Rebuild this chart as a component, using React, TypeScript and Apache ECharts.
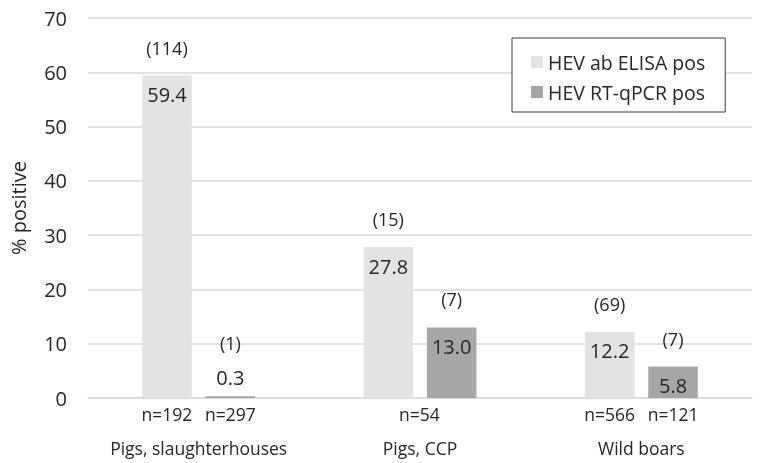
import React, { useEffect, useRef } from "react";
import * as echarts from "echarts";

const categories = ["Pigs, slaughterhouses", "Pigs, CCP", "Wild boars"];
const elisaPct = [59.4, 27.8, 12.2];
const pcrPct = [0.3, 13.0, 5.8];
const elisaCount = ["(114)", "(15)", "(69)"];
const pcrCount = ["(1)", "(7)", "(7)"];
const elisaN = ["n=192", "n=54", "n=566"];
const pcrN = ["n=297", "", "n=121"];
const yTicks = { min: 0, max: 70, interval: 10 };

const FONT = "Open Sans";
const TXT = "#262626";
const LIGHT = "#e3e3e3";
const DARK = "#a6a6a6";

export default function App() {
  const ref = useRef<HTMLDivElement>(null);
  useEffect(() => {
    if (!ref.current) return;
    const chart = echarts.init(ref.current, undefined, { renderer: "svg" });
    const zeros = categories.map(() => 0);
    const nLabel = (arr: string[]) => ({
      show: true,
      position: "bottom",
      distance: 7,
      fontFamily: FONT,
      fontSize: 17.5,
      color: TXT,
      formatter: (p: any) => arr[p.dataIndex],
    });
    const cntLabel = (arr: string[]) => ({
      show: true,
      position: "top",
      distance: 19,
      fontFamily: FONT,
      fontSize: 18,
      color: TXT,
      formatter: (p: any) => arr[p.dataIndex],
    });
    const valLabel = {
      show: true,
      position: "insideTop",
      distance: 9,
      fontFamily: FONT,
      fontSize: 20,
      color: TXT,
      formatter: (p: any) => Number(p.value).toFixed(1),
    };
    const helper = { color: "rgba(0,0,0,0)" };
    const option: any = {
      animation: false,
      grid: { left: 88, right: 9, top: 18, bottom: 65 },
      legend: {
        data: ["HEV ab ELISA pos", "HEV RT-qPCR pos"],
        orient: "vertical",
        left: 512,
        top: 38,
        padding: [14, 20, 10, 19],
        itemWidth: 12,
        itemHeight: 12,
        itemGap: 10,
        backgroundColor: "#ffffff",
        borderColor: "#404040",
        borderWidth: 1,
        borderRadius: 0,
        textStyle: { fontFamily: FONT, fontSize: 19.5, color: TXT },
        icon: "rect",
      },
      xAxis: {
        type: "category",
        data: categories,
        axisLine: { lineStyle: { color: "#d9d9d9", width: 1.5 } },
        axisTick: { show: false },
        axisLabel: {
          interval: 0,
          fontFamily: FONT,
          fontSize: 17.5,
          color: TXT,
          margin: 41,
        },
      },
      yAxis: {
        type: "value",
        ...yTicks,
        name: "% positive",
        nameLocation: "middle",
        nameGap: 60,
        nameTextStyle: { fontFamily: FONT, fontSize: 20, color: TXT },
        axisLine: { show: false },
        axisTick: { show: false },
        axisLabel: { fontFamily: FONT, fontSize: 20, color: TXT, margin: 21 },
        splitLine: { lineStyle: { color: "#d9d9d9", width: 1.5 } },
      },
      series: [
        {
          name: "elisaN",
          type: "bar",
          stack: "a",
          silent: true,
          data: zeros.map((v, i) =>
            i === 1 ? { value: v, label: { offset: [31, 0] } } : v
          ),
          itemStyle: helper,
          label: nLabel(elisaN),
        },
        {
          name: "HEV ab ELISA pos",
          type: "bar",
          stack: "a",
          data: elisaPct,
          itemStyle: { color: LIGHT },
          label: valLabel,
        },
        {
          name: "elisaCount",
          type: "bar",
          stack: "a",
          silent: true,
          data: zeros,
          itemStyle: helper,
          label: cntLabel(elisaCount),
        },
        {
          name: "pcrN",
          type: "bar",
          stack: "b",
          silent: true,
          data: zeros,
          itemStyle: helper,
          label: nLabel(pcrN),
        },
        {
          name: "HEV RT-qPCR pos",
          type: "bar",
          stack: "b",
          data: pcrPct.map((v) =>
            v < 3 ? { value: v, label: { position: "top", distance: 9 } } : v
          ),
          itemStyle: { color: DARK },
          label: valLabel,
        },
        {
          name: "pcrCount",
          type: "bar",
          stack: "b",
          silent: true,
          data: pcrPct.map((v) =>
            v < 3 ? { value: 0, label: { distance: 44 } } : 0
          ),
          itemStyle: helper,
          label: cntLabel(pcrCount),
          barGap: "28%",
          barCategoryGap: "49%",
        },
      ],
    };
    chart.setOption(option);
    return () => chart.dispose();
  }, []);
  return (
    <div
      ref={ref}
      style={{ position: "fixed", left: 0, top: 0, width: 761, height: 463 }}
    />
  );
}
